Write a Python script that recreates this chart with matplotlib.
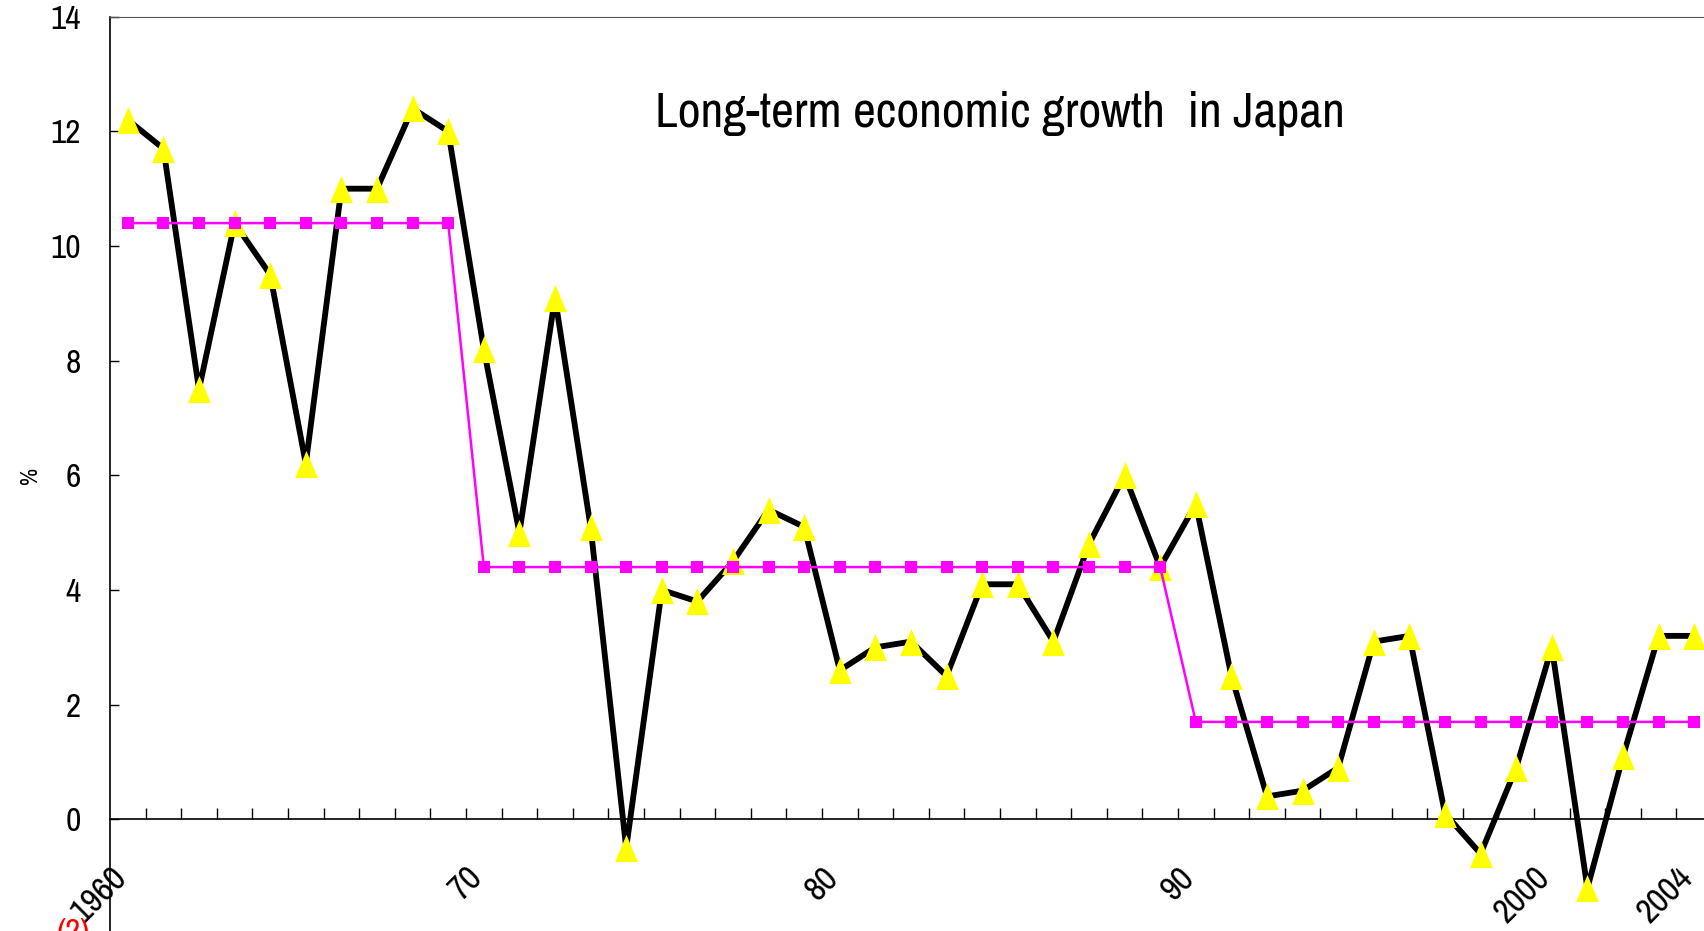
import numpy as np
import matplotlib
matplotlib.use("Agg")
import matplotlib.pyplot as plt
from matplotlib.ticker import FixedLocator, FixedFormatter

plt.rcParams['font.family'] = ['Archivo Narrow', 'DejaVu Sans']
plt.rcParams['font.stretch'] = 'condensed'

# real GDP growth rate (%), 1960-2004
years = list(range(1960, 2005))
growth = [12.2, 11.7, 7.5, 10.4, 9.5, 6.2, 11.0, 11.0, 12.4, 12.0,
          8.2, 5.0, 9.1, 5.1, -0.5, 4.0, 3.8, 4.5, 5.4, 5.1,
          2.6, 3.0, 3.1, 2.5, 4.1, 4.1, 3.1, 4.8, 6.0, 4.4,
          5.5, 2.5, 0.4, 0.5, 0.9, 3.1, 3.2, 0.1, -0.6, 0.9,
          3.0, -1.2, 1.1, 3.2, 3.2]

# period averages
avg_60s = 10.4
avg_70s_80s = 4.4
avg_90s = 1.7
average = [avg_60s] * 10 + [avg_70s_80s] * 20 + [avg_90s] * 15

label_pos = [0, 10, 20, 30, 40, 44]
label_text = ["1960", "70", "80", "90", "2000", "2004"]

title = "Long-term economic growth  in Japan"


def main():

    fig = plt.figure(figsize=(17.04, 9.31), dpi=100)

    W, H = 1704, 931
    left, right = 110, 1712
    top, bottom = 16.7, 934
    ax = fig.add_axes([left / W, (H - bottom) / H,
                       (right - left) / W, (bottom - top) / H])

    x = np.arange(len(years))

    tri = [(-1, -1.19), (1, -1.19), (0, 1.19), (-1, -1.19)]

    ax.plot(x, growth, color="black", lw=4.2, marker=tri,
            markersize=19.5, markerfacecolor="#FFFF00",
            markeredgecolor="#FFFF00", markeredgewidth=0, zorder=3)

    ax.plot(x, average, color="#FF00FF", lw=1.8, marker="s",
            markersize=8.5, markeredgewidth=0, zorder=4)

    ax.set_xlim(-0.5, len(years) - 0.5)
    ax.set_ylim(-2, 14)

    # y axis
    ax.set_yticks(range(0, 15, 2))
    ax.tick_params(axis="y", direction="in", length=6.5, width=1,
                   pad=21, labelsize=24)

    # x axis crosses at 0
    ax.spines["bottom"].set_position(("data", 0))
    ax.spines["bottom"].set_linewidth(1.2)
    ax.spines["left"].set_linewidth(1.2)
    ax.spines["top"].set_color("#555555")
    ax.xaxis.set_major_locator(FixedLocator(label_pos))
    ax.xaxis.set_major_formatter(FixedFormatter(label_text))
    ax.xaxis.set_minor_locator(FixedLocator(np.arange(0.5, len(years) - 1, 1.0)))
    ax.tick_params(axis="x", which="major", length=0, pad=43, labelsize=25)
    ax.tick_params(axis="x", which="minor", direction="in", length=8, width=1)
    for lab in ax.get_xticklabels():
        lab.set_rotation(45)
        lab.set_rotation_mode("anchor")
        lab.set_ha("right")
        lab.set_va("baseline")

    fig.text(31 / W, 1 - 475 / H, "%", rotation=90, fontsize=17,
             ha="center", va="center")

    fig.text(1000 / W, 1 - 127 / H, title, fontsize=36,
             ha="center", va="baseline")

    fig.text(57 / W, 1 - 918 / H, "(2)", color="red", fontsize=24,
             ha="left", va="top")

    fig.savefig("out.png", dpi=100)


if __name__ == "__main__":
    main()
